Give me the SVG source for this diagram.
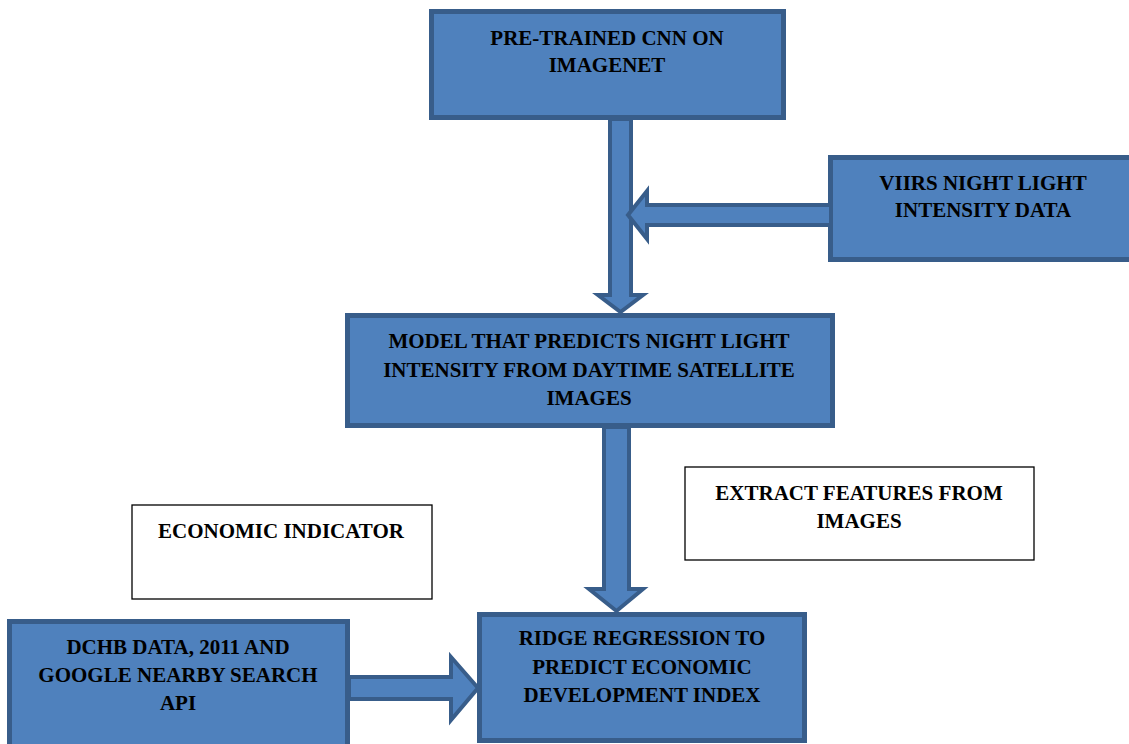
<svg xmlns="http://www.w3.org/2000/svg" width="1129" height="744" viewBox="0 0 1129 744">
<style>
.blue{fill:#4f81bd;stroke:#385d8a;stroke-width:5}
.arr{fill:#4f81bd;stroke:#385d8a;stroke-width:4;stroke-linejoin:miter}
.wbox{fill:#ffffff;stroke:#000000;stroke-width:1.3}
text{font-family:"Liberation Serif","Times New Roman",serif;font-weight:bold;font-size:21px;fill:#000000;text-anchor:middle}
</style>
<rect width="1129" height="744" fill="#ffffff"/>
<g id="n1"><rect class="blue" x="431.5" y="11.5" width="352" height="106"/>
<text x="607" y="45">PRE-TRAINED CNN ON</text><text x="607" y="72">IMAGENET</text></g>
<g id="n2"><rect class="blue" x="830.5" y="157.5" width="310" height="102"/>
<text x="983" y="190">VIIRS NIGHT LIGHT</text><text x="983" y="217">INTENSITY DATA</text></g>
<g id="n3"><rect class="blue" x="347.5" y="315.5" width="485" height="110"/>
<text x="589" y="348">MODEL THAT PREDICTS NIGHT LIGHT</text><text x="589" y="377">INTENSITY FROM DAYTIME SATELLITE</text><text x="589" y="405">IMAGES</text></g>
<g id="n4"><rect class="wbox" x="132" y="505" width="300" height="94"/>
<text x="281" y="538">ECONOMIC INDICATOR</text></g>
<g id="n5"><rect class="wbox" x="685" y="467" width="349" height="93"/>
<text x="859" y="500">EXTRACT FEATURES FROM</text><text x="859" y="528">IMAGES</text></g>
<g id="n6"><rect class="blue" x="479.5" y="614.5" width="325" height="126"/>
<text x="642" y="645">RIDGE REGRESSION TO</text><text x="642" y="674">PREDICT ECONOMIC</text><text x="642" y="702">DEVELOPMENT INDEX</text></g>
<g id="n7"><rect class="blue" x="9.5" y="621.5" width="338" height="130"/>
<text x="178" y="654">DCHB DATA, 2011 AND</text><text x="178" y="682">GOOGLE NEARBY SEARCH</text><text x="178" y="710">API</text></g>
<g id="connectors">
<polygon class="arr" points="610,119 631,119 631,295 643,295 620.5,312 598,295 610,295"/>
<polygon class="arr" points="831,205 647,205 647,191 628,215 647,239 647,225 831,225"/>
<polygon class="arr" points="604,427 629,427 629,589 643,589 616.5,611 589,589 604,589"/>
<polygon class="arr" points="349,677 451,677 451,657 478,688 451,720 451,699 349,699"/>
</g>
</svg>
